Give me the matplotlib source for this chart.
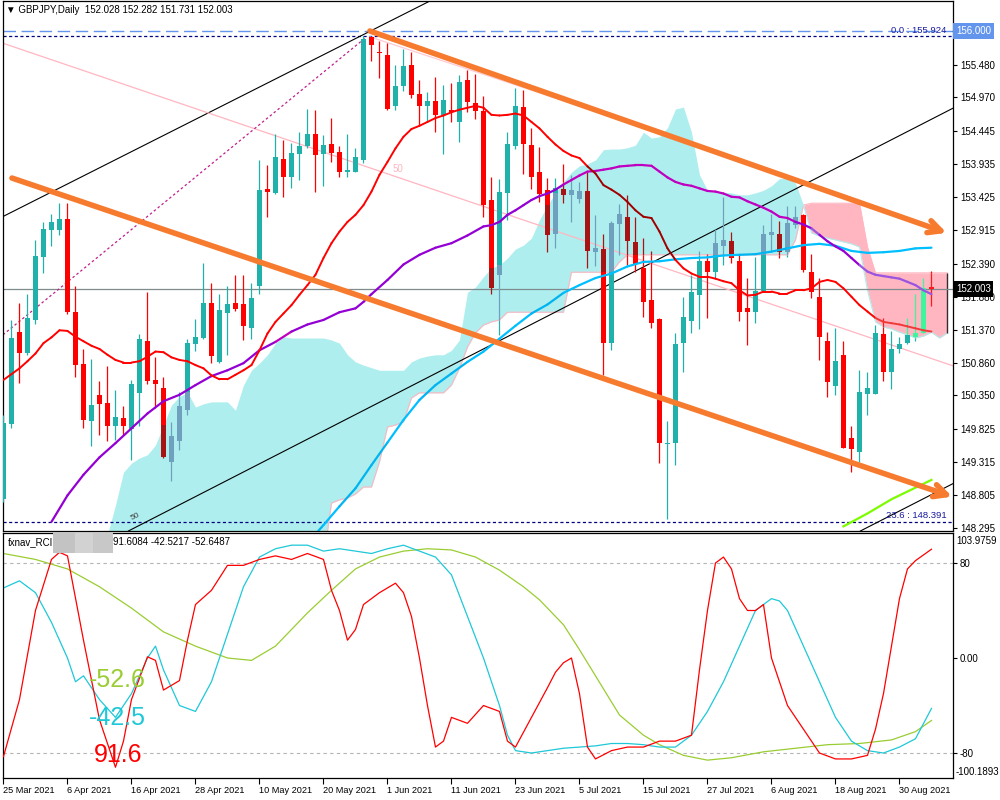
import numpy as np
import matplotlib.pyplot as plt
from matplotlib.collections import LineCollection
from matplotlib.transforms import blended_transform_factory

plt.rcParams['font.family'] = ['Liberation Sans', 'DejaVu Sans']

# ================= GBPJPY daily, bar 0 = 25 Mar 2021 ... bar 116 = 3 Sep 2021 =================
opens = [148.75, 149.90, 151.33, 151.00, 151.52, 152.50, 152.92, 152.92, 153.09, 151.64,
         150.83, 149.95, 150.36, 150.23, 149.87, 150.00, 149.83, 150.39, 151.19, 150.59,
         150.46, 149.32, 149.64, 150.12, 151.15, 151.24, 151.79, 150.87, 151.63, 151.79,
         151.76, 151.40, 152.04, 153.55, 153.49, 154.01, 153.73, 154.10, 154.21, 154.41,
         154.09, 154.25, 154.12, 153.82, 153.82, 154.00, 155.90, 155.67, 155.63, 154.83,
         155.15, 155.47, 155.02, 154.83, 154.92, 154.70, 154.78, 154.59, 155.24, 154.89,
         154.76, 153.38, 152.22, 153.49, 154.21, 154.82, 154.23, 153.82, 153.54, 152.86,
         153.55, 153.46, 153.40, 153.52, 152.58, 152.62, 151.16, 153.00, 153.12, 152.73,
         152.33, 151.83, 151.54, 149.59, 149.61, 151.16, 151.50, 151.90, 152.43, 152.27,
         152.67, 152.74, 152.43, 151.70, 151.65, 151.97, 152.84, 152.86, 152.58, 152.99,
         153.14, 152.27, 151.88, 151.19, 150.50, 150.98, 149.69, 149.48, 150.37, 150.37,
         151.30, 150.71, 151.07, 151.17, 151.26, 151.31, 152.028]
highs = [150.05, 151.52, 151.78, 151.92, 152.76, 153.04, 153.17, 153.33, 153.34, 152.05,
         151.07, 150.92, 150.57, 150.81, 150.43, 150.19, 150.59, 151.30, 151.96, 150.94,
         150.64, 149.94, 150.41, 151.23, 151.54, 152.40, 152.10, 151.92, 152.04, 152.21,
         152.21, 152.10, 154.00, 153.93, 154.40, 154.31, 154.27, 154.44, 154.79, 154.77,
         154.39, 154.65, 154.21, 154.41, 154.18, 155.92, 155.91, 155.85, 155.81, 155.47,
         155.72, 155.68, 155.24, 155.06, 155.29, 155.17, 155.19, 155.32, 155.40, 155.34,
         154.99, 153.74, 153.71, 154.43, 155.11, 155.09, 154.49, 154.20, 153.72, 153.72,
         153.94, 153.77, 153.66, 153.82, 153.15, 152.86, 153.05, 153.32, 153.46, 153.12,
         152.79, 152.59, 151.55, 149.95, 151.31, 151.88, 152.21, 152.59, 152.55, 152.93,
         153.42, 152.89, 152.55, 152.17, 152.50, 152.99, 153.17, 153.05, 153.28, 153.28,
         153.17, 152.54, 152.17, 151.33, 151.40, 151.19, 149.87, 150.74, 150.72, 151.44,
         151.55, 151.35, 151.26, 151.55, 151.92, 152.17, 152.282]
lows = [148.70, 149.84, 150.55, 150.98, 151.45, 152.25, 152.67, 152.84, 151.61, 150.63,
        149.85, 149.56, 149.73, 149.64, 149.66, 149.73, 149.35, 149.87, 150.52, 150.15,
        149.38, 149.02, 149.50, 150.04, 151.04, 151.22, 150.85, 150.85, 150.97, 151.66,
        151.21, 151.23, 151.92, 153.11, 153.47, 153.43, 153.57, 153.69, 154.19, 153.50,
        153.59, 153.97, 153.73, 153.73, 153.81, 153.95, 155.54, 155.27, 154.77, 154.77,
        155.07, 154.96, 154.54, 154.59, 154.44, 154.10, 154.59, 154.28, 154.75, 154.63,
        153.11, 151.92, 151.29, 153.07, 154.17, 153.79, 153.55, 153.35, 152.58, 152.63,
        153.33, 153.04, 153.33, 152.32, 152.35, 150.67, 151.05, 152.53, 152.37, 152.27,
        151.57, 151.39, 149.31, 148.44, 149.27, 150.72, 151.31, 151.38, 151.55, 152.17,
        152.37, 152.40, 151.50, 151.13, 151.48, 151.96, 152.61, 152.48, 152.50, 152.94,
        152.27, 151.86, 150.90, 150.33, 150.35, 149.53, 149.17, 149.32, 150.04, 150.37,
        150.57, 150.45, 151.00, 151.15, 151.19, 151.31, 151.731]
closes = [149.92, 151.24, 151.00, 151.55, 152.51, 152.93, 153.04, 153.09, 151.64, 150.82,
          149.97, 150.20, 150.22, 149.88, 150.02, 149.87, 150.52, 151.23, 150.57, 150.52,
          149.39, 149.72, 150.18, 151.17, 151.25, 151.79, 150.96, 151.67, 151.76, 151.69,
          151.42, 151.86, 153.54, 153.51, 154.04, 153.73, 154.11, 154.22, 154.41, 154.07,
          154.23, 154.11, 153.82, 153.84, 154.04, 155.88, 155.78, 155.66, 154.79, 155.15,
          155.46, 155.00, 154.83, 154.92, 154.70, 154.93, 154.74, 155.21, 154.90, 154.76,
          153.30, 152.01, 153.51, 154.25, 154.84, 154.25, 153.73, 153.48, 152.83, 153.56,
          153.45, 153.54, 153.52, 152.59, 152.64, 151.16, 153.03, 153.16, 152.74, 152.38,
          151.80, 151.48, 149.62, 149.62, 151.14, 151.56, 151.96, 152.43, 152.27, 152.71,
          152.76, 152.48, 151.64, 151.65, 151.97, 152.86, 152.88, 152.58, 153.03, 153.12,
          152.30, 151.96, 151.25, 150.56, 150.88, 149.54, 149.52, 150.41, 150.46, 151.31,
          150.72, 151.07, 151.14, 151.28, 151.31, 152.02, 152.003]

date_bars = [0, 8, 16, 24, 32, 40, 48, 56, 64, 72, 80, 88, 96, 104, 112]
date_labels = ['25 Mar 2021', '6 Apr 2021', '16 Apr 2021', '28 Apr 2021', '10 May 2021',
               '20 May 2021', '1 Jun 2021', '11 Jun 2021', '23 Jun 2021', '5 Jul 2021',
               '15 Jul 2021', '27 Jul 2021', '6 Aug 2021', '18 Aug 2021', '30 Aug 2021']
price_ticks = [155.480, 154.970, 154.445, 153.935, 153.425, 152.915, 152.390, 151.880,
               151.370, 150.860, 150.350, 149.825, 149.315, 148.805, 148.295]

# ---- Ichimoku cloud, bars 13 .. 118
kumo_first = 13
span_a = [148.19, 148.65, 149.16, 149.30, 149.38, 149.43, 149.58, 149.89, 150.20, 150.33,
          150.40, 150.17, 150.22, 150.25, 150.25, 150.25, 150.12, 150.51, 150.74, 150.85,
          150.98, 151.16, 151.26, 151.24, 151.24, 151.24, 151.24, 151.24, 151.21, 151.16,
          150.98, 150.87, 150.82, 150.78, 150.74, 150.74, 150.74, 150.74, 150.87, 150.93,
          150.96, 150.98, 150.98, 151.05, 151.21, 151.95, 152.03, 152.19, 152.33, 152.37,
          152.48, 152.62, 152.68, 152.79, 153.07, 153.30, 153.49, 153.66, 153.81, 153.91,
          153.94, 154.00, 154.16, 154.17, 154.17, 154.19, 154.23, 154.43, 154.34, 154.36,
          154.50, 154.79, 154.82, 154.43, 153.77, 153.53, 153.52, 153.50, 153.49, 153.46,
          153.46, 153.49, 153.53, 153.60, 153.71, 153.72, 153.64, 153.30, 152.87, 152.82,
          152.79, 152.76, 152.73, 152.70, 152.65, 151.98, 151.49, 151.41, 151.38, 151.33,
          151.29, 151.24, 151.27, 151.33, 151.24, 151.32]
span_b = [147.80, 147.80, 147.80, 147.80, 147.80, 147.80, 147.80, 147.80, 147.80, 147.80,
          147.80, 147.80, 147.80, 147.80, 147.80, 147.80, 147.80, 147.80, 147.80, 147.80,
          147.80, 147.80, 147.80, 147.80, 147.80, 147.80, 147.80, 147.80, 148.68, 148.73,
          148.76, 148.82, 148.93, 148.93, 149.32, 149.86, 149.89, 149.94, 150.31, 150.39,
          150.39, 150.39, 150.39, 150.51, 150.77, 151.10, 151.32, 151.44, 151.49, 151.52,
          151.64, 151.64, 151.64, 151.64, 151.64, 151.64, 151.64, 151.64, 152.26, 152.26,
          152.26, 152.26, 152.26, 152.26, 152.42, 152.53, 152.53, 152.53, 152.53, 152.53,
          152.53, 152.53, 152.53, 152.53, 152.53, 152.53, 152.53, 152.53, 152.53, 152.53,
          152.53, 152.53, 152.53, 152.53, 152.53, 152.53, 152.76, 153.30, 153.33, 153.33,
          153.33, 153.33, 153.33, 153.33, 153.33, 152.65, 152.25, 152.25, 152.25, 152.25,
          152.25, 152.25, 152.25, 152.25, 152.25, 152.25]

# ---- moving averages (bar, price)
ma_fast_bar = list(range(0, 117))
ma_fast = [150.59, 150.68, 150.77, 150.88, 151.00, 151.16, 151.25, 151.36, 151.35, 151.26,
           151.19, 151.12, 151.07, 150.98, 150.90, 150.86, 150.86, 150.88, 150.95, 151.03,
           151.02, 150.94, 150.90, 150.88, 150.82, 150.77, 150.66, 150.60, 150.60, 150.67,
           150.74, 150.82, 151.05, 151.31, 151.49, 151.62, 151.75, 151.91, 152.06, 152.22,
           152.48, 152.71, 152.89, 153.04, 153.15, 153.30, 153.51, 153.77, 153.97, 154.18,
           154.36, 154.48, 154.53, 154.59, 154.65, 154.69, 154.74, 154.78, 154.81, 154.84,
           154.81, 154.70, 154.69, 154.70, 154.72, 154.69, 154.59, 154.49, 154.36, 154.24,
           154.14, 154.07, 154.03, 153.90, 153.79, 153.61, 153.54, 153.46, 153.35, 153.22,
           153.12, 153.10, 152.89, 152.63, 152.45, 152.32, 152.24, 152.19, 152.19, 152.16,
           152.12, 152.09, 151.98, 151.90, 151.91, 151.96, 151.96, 151.93, 151.93, 151.98,
           151.98, 152.01, 152.11, 152.14, 152.11, 152.01, 151.88, 151.75, 151.65, 151.55,
           151.49, 151.47, 151.45, 151.42, 151.39, 151.36, 151.34]
ma_mid_bar = [6, 8, 10, 12, 14, 16, 18, 20, 22, 24, 26, 28, 30, 32, 34, 36, 38, 40, 42, 44,
              45, 46, 48, 50, 52, 54, 56, 58, 60, 61, 62, 63, 64, 65, 66, 67, 68, 69, 70, 71,
              72, 73, 74, 75, 76, 77, 78, 79, 80, 81, 82, 83, 84, 85, 86, 87, 88, 89, 90, 91,
              92, 93, 94, 95, 96, 97, 98, 99, 100, 101, 102, 103, 104, 105, 106, 107, 108, 109,
              110, 111, 112, 113, 114, 115, 116]
ma_mid = [148.39, 148.80, 149.12, 149.39, 149.61, 149.84, 150.07, 150.26, 150.36, 150.51,
          150.65, 150.74, 150.85, 151.05, 151.18, 151.34, 151.45, 151.52, 151.64, 151.70,
          151.80, 151.92, 152.14, 152.38, 152.53, 152.64, 152.71, 152.83, 152.97, 152.99,
          153.04, 153.15, 153.22, 153.30, 153.38, 153.44, 153.48, 153.54, 153.62, 153.69,
          153.76, 153.82, 153.83, 153.85, 153.87, 153.90, 153.91, 153.92, 153.92, 153.91,
          153.82, 153.73, 153.66, 153.62, 153.60, 153.56, 153.52, 153.51, 153.48, 153.43,
          153.42, 153.36, 153.31, 153.26, 153.20, 153.12, 153.10, 153.04, 153.00, 152.94,
          152.84, 152.74, 152.66, 152.59, 152.48, 152.37, 152.27, 152.22, 152.20, 152.18,
          152.16, 152.11, 152.06, 151.98, 151.92]
ma_slow_bar = [39, 40, 42, 44, 46, 48, 50, 52, 54, 56, 58, 60, 62, 64, 66, 68, 70, 72, 74, 76,
               78, 80, 82, 84, 86, 88, 90, 92, 94, 96, 98, 100, 102, 104, 106, 108, 110, 112,
               114, 116]
ma_slow = [148.20, 148.34, 148.63, 148.91, 149.27, 149.62, 149.97, 150.28, 150.51, 150.69,
           150.87, 151.03, 151.23, 151.43, 151.62, 151.76, 151.94, 152.06, 152.17, 152.24,
           152.35, 152.42, 152.43, 152.46, 152.48, 152.49, 152.52, 152.53, 152.54, 152.58,
           152.63, 152.68, 152.70, 152.67, 152.59, 152.56, 152.57, 152.59, 152.63, 152.64]
ma_long_bar = [105, 108, 111, 114, 116]
ma_long = [148.32, 148.52, 148.74, 148.92, 149.04]

# ---- drawn objects (bar, price)
fib_high, fib_low236 = 155.924, 148.391
chan_top = [(45.8, 156.00), (117.9, 152.87)]
chan_bot = [(1.06, 153.72), (118.6, 148.78)]
fan_lines = [[(-0.44, 153.10), (45.56, 155.98)],
             [(17.06, 148.34), (117.7, 154.74)],
             [(108.56, 148.34), (117.7, 148.92)]]
pink_line = [(-0.06, 155.81), (117.7, 150.85)]
pink_short = [(45.8, 155.91), (74.6, 154.73)]
fib_diag = [(-0.06, 151.29), (45.2, 155.89)]
last_price = 152.003

# ---- RCI sub window (bar, value)
rci_fast_bar = [0, 2, 4, 6, 7, 8, 10, 12, 14, 15, 16, 18, 19, 20, 22, 23, 24, 26, 28, 30, 32,
                34, 36, 38, 40, 41, 42, 43, 44, 45, 47, 49, 50, 51, 52, 53, 54, 55, 56, 58, 60,
                62, 63, 64, 66, 68, 69, 70, 71, 72, 73, 74, 76, 78, 80, 82, 84, 86, 87, 88, 89,
                90, 91, 92, 93, 94, 95, 96, 97, 98, 100, 102, 104, 106, 108, 109, 110, 111,
                112, 113, 114, 116]
rci_fast = [-83, -35, 40, 83, 89, 86, 15, -52, -92, -70, -35, 1, -2, -27, -19, 15, 45, 57, 78,
            78, 83, 86, 83, 88, 83, 57, 40, 15, 24, 45, 55, 63, 55, 35, 0, -40, -75, -70, -50,
            -55, -40, -45, -70, -75, -50, -25, -12, -4, 0, -30, -75, -85, -78, -75, -75, -70,
            -70, -65, -10, 40, 80, 85, 75, 50, 40, 40, 45, 0, -20, -40, -60, -80, -85, -85,
            -82, -60, -30, 10, 50, 75, 82, 91.6]
rci_mid_bar = [0, 2, 4, 6, 8, 9, 10, 12, 14, 16, 18, 19, 20, 22, 24, 26, 28, 30, 32, 34, 36, 38,
               40, 42, 44, 46, 48, 50, 52, 54, 56, 58, 60, 62, 63, 64, 66, 68, 70, 72, 74, 76,
               78, 80, 82, 84, 86, 88, 90, 92, 94, 96, 97, 98, 100, 102, 104, 106, 108, 110,
               112, 114, 116]
rci_mid = [59, 65, 55, 30, 0, -20, -15, -35, -50, -30, 0, 10, -10, -40, -45, -20, 20, 60, 85,
           92, 95, 95, 90, 92, 90, 88, 92, 95, 90, 85, 70, 35, 0, -40, -65, -78, -80, -78, -76,
           -75, -74, -72, -72, -73, -75, -75, -65, -45, -20, 10, 40, 50, 48, 40, 10, -20, -50,
           -70, -78, -80, -75, -68, -42.5]
rci_slow_bar = [0, 4, 8, 12, 16, 20, 24, 28, 31, 34, 36, 38, 41, 44, 47, 50, 53, 56, 59, 62, 65,
                67, 70, 72, 74, 77, 80, 82, 85, 88, 91, 95, 99, 103, 107, 111, 114, 116]
rci_slow = [88, 83, 75, 60, 42, 22, 10, 0, -2, 10, 24, 38, 57, 75, 85, 90, 92, 91, 85, 74, 60,
            49, 28, 7, -15, -48, -65, -73, -82, -86, -84, -79, -76, -73, -72, -69, -62, -52.6]

# ================================ FIGURE ================================
W, H = 1000, 800
fig = plt.figure(figsize=(W / 100, H / 100), dpi=100)
ax = fig.add_axes([3 / W, 1 - 531 / H, 950 / W, 530 / H])
sub = fig.add_axes([3 / W, 1 - 778 / H, 950 / W, 245 / H])
for a_ in (ax, sub):
    a_.set_xlim(-0.06, 118.69)
    for s in a_.spines.values():
        s.set_color('black')
        s.set_linewidth(0.9)
ax.set_ylim(148.248, 156.465)
sub.set_ylim(-101.05, 105.26)

# ---- cloud
ki = np.arange(kumo_first, kumo_first + len(span_a))
sa, sb = np.array(span_a), np.array(span_b)
ctop, cbot = np.maximum(sa, sb), np.minimum(sa, sb)
ax.fill_between(ki, sa, sb, where=sa >= sb, interpolate=True, color='#afeeee', lw=0, zorder=1)
ax.fill_between(ki, sa, sb, where=sa < sb, interpolate=True, color='#ffb6c1', lw=0, zorder=1)
ax.plot(ki, sb, color='#ffb6c1', lw=0.8, zorder=1.1)
ax.plot(ki[sa < sb + 0.01], sa[sa < sb + 0.01], color='#afeeee', lw=0.8, zorder=1.1)
ax.vlines(ki[-1], cbot[-1], ctop[-1], color='#303030', lw=1, zorder=1.2)


def cloud_kind(x, y):
    if x < ki[0] or x > ki[-1]:
        return None
    t, b = np.interp(x, ki, ctop), np.interp(x, ki, cbot)
    if b <= y <= t:
        return 'cyan' if np.interp(x, ki, sa - sb) >= 0 else 'pink'
    return None


# ---- horizontal levels
ax.axhline(156.0, color='#6495ed', lw=1, dashes=(9, 4), zorder=2)
ax.axhline(fib_high, color='#000080', lw=0.9, dashes=(2.5, 2), zorder=2)
ax.axhline(fib_low236, color='#000080', lw=0.9, dashes=(2.5, 2), zorder=2)
ax.axhline(last_price, color='#7f8c8d', lw=0.9, zorder=2)
ax.text(117.9, fib_high + 0.02, '0.0 : 155.924', color='#1a1aa0', fontsize=6.8,
        ha='right', va='bottom', zorder=6)
ax.text(117.9, fib_low236 + 0.02, '23.6 : 148.391', color='#1a1aa0', fontsize=6.8,
        ha='right', va='bottom', zorder=6)

# ---- thin drawn lines
for ln in fan_lines:
    ax.axline(ln[0], ln[1], color='black', lw=0.8, zorder=2)
ax.axline(pink_line[0], pink_line[1], color='#ffb6c1', lw=0.9, zorder=2)
ax.plot(*zip(*pink_short), color='#ffc8d2', lw=0.9, zorder=2)
ax.plot(*zip(*fib_diag), color='#c0208a', lw=0.9, ls=(0, (2, 2)), zorder=2)
ax.text(15.8, 148.42, '50', fontsize=6, color='#404040', rotation=25, zorder=2)
ax.text(48.6, 153.82, '50', fontsize=7, color='#ffb6c1', zorder=2)

# ---- candles
bull_c = {None: '#20b2aa', 'cyan': '#6fa0bd', 'pink': '#3cf59c'}
bear_c = {None: '#ff0000', 'cyan': '#a81414', 'pink': '#ff1a1a'}


def pieces(lo, hi, i):
    if i < ki[0] or i > ki[-1]:
        return [(lo, hi, None)]
    t, b = ctop[i - kumo_first], cbot[i - kumo_first]
    edges = sorted(set([lo, hi] + [v for v in (b, t) if lo < v < hi]))
    if len(edges) == 1:
        return [(lo, hi, cloud_kind(i, lo))]
    return [(p0, p1, cloud_kind(i, (p0 + p1) / 2)) for p0, p1 in zip(edges[:-1], edges[1:])]


for i in range(len(opens)):
    o, h, l, c = opens[i], highs[i], lows[i], closes[i]
    pal = bull_c if c >= o else bear_c
    for p0, p1, k in pieces(l, h, i):
        ax.vlines(i, p0, p1, color=pal[k], lw=0.9, zorder=3)
    blo, bhi = min(o, c), max(o, c)
    if bhi - blo < 0.015:
        blo, bhi = (o + c) / 2 - 0.008, (o + c) / 2 + 0.008
    for p0, p1, k in pieces(blo, bhi, i):
        ax.bar(i, p1 - p0, bottom=p0, width=0.62, color=pal[k], lw=0, zorder=3)


# ---- moving averages
def cloud_line(xs, ys, colors, lw, z):
    segs, cols = [], []
    for k in range(len(xs) - 1):
        xm, ym = (xs[k] + xs[k + 1]) / 2, (ys[k] + ys[k + 1]) / 2
        segs.append([(xs[k], ys[k]), (xs[k + 1], ys[k + 1])])
        cols.append(colors[cloud_kind(xm, ym)])
    ax.add_collection(LineCollection(segs, colors=cols, linewidths=lw, zorder=z,
                                     capstyle='round'))


cloud_line(ma_slow_bar, ma_slow, {None: '#00bfff', 'cyan': '#00b4f0', 'pink': '#00bfff'}, 1.6, 4)
cloud_line(ma_mid_bar, ma_mid, {None: '#9400d3', 'cyan': '#c000c0', 'pink': '#9a55e0'}, 1.6, 4)
cloud_line(ma_fast_bar, ma_fast, {None: '#ff0000', 'cyan': '#a00000', 'pink': '#f03a3a'}, 1.4, 4)
ax.plot(ma_long_bar, ma_long, color='#7cfc00', lw=1.6, zorder=4)

# ---- orange channel with arrows
for ln in (chan_top, chan_bot):
    ax.annotate('', xy=ln[1], xytext=ln[0], zorder=5,
                arrowprops=dict(arrowstyle='->,head_length=0.9,head_width=0.45',
                                color='#f77b2f', lw=4, shrinkA=0, shrinkB=0))

# ---- main axis ticks / labels
ax.set_xticks([])
ax.yaxis.tick_right()
ax.set_yticks(price_ticks)
ax.set_yticklabels([f'{v:.3f}' for v in price_ticks])
ax.tick_params(axis='y', length=3, width=0.8, labelsize=7, pad=2)
trans = blended_transform_factory(ax.transAxes, ax.transData)
ax.text(1.003, 156.0, '156.000', transform=trans, fontsize=7, color='white', va='center',
        ha='left', bbox=dict(boxstyle='square,pad=0.28', fc='#6495ed', ec='none'), zorder=7)
ax.text(1.003, last_price, '152.003', transform=trans, fontsize=7, color='white', va='center',
        ha='left', bbox=dict(boxstyle='square,pad=0.28', fc='black', ec='none'), zorder=7)
fig.text(6 / W, 1 - 10 / H, '\u25bc GBPJPY,Daily  152.028 152.282 151.731 152.003',
         fontsize=7, va='center', ha='left')

# ================================ RCI window ================================
for lv in (80, -80):
    sub.axhline(lv, color='#b4b4b4', lw=0.8, dashes=(3, 3), zorder=1)
sub.plot(rci_slow_bar, rci_slow, color='#9acd32', lw=0.9, zorder=2)
sub.plot(rci_mid_bar, rci_mid, color='#1ec8d8', lw=0.9, zorder=2)
sub.plot(rci_fast_bar, rci_fast, color='#ff0000', lw=0.9, zorder=3)

sub.yaxis.tick_right()
sub.set_yticks([80, 0, -80])
sub.set_yticklabels(['80', '0.00', '-80'])
sub.tick_params(axis='y', length=3, width=0.8, labelsize=7, pad=2)
sub.text(1.003, 1 - 8 / 245, '103.9759', transform=sub.transAxes, fontsize=7, va='center')
sub.text(1.003, 6 / 245, '-100.1893', transform=sub.transAxes, fontsize=7, va='center')
sub.set_xticks(date_bars)
sub.set_xticklabels(date_labels, ha='left', fontsize=6.6)
sub.tick_params(axis='x', direction='out', length=4, width=0.8, pad=2)

fig.text(8 / W, 1 - 542 / H, 'fxnav_RCI', fontsize=7, va='center')
for x0, x1, gc in ((53, 75, '#c3c3c3'), (75, 93, '#d2d2d2'), (93, 113, '#c8c8c8')):
    fig.patches.append(plt.Rectangle((x0 / W, 1 - 553 / H), (x1 - x0) / W, 20 / H,
                                     transform=fig.transFigure, fc=gc, ec='none'))
fig.text(113 / W, 1 - 542 / H, '91.6084 -42.5217 -52.6487', fontsize=7, va='center')

fig.text(89 / W, 1 - 680 / H, '-52.6', color='#9acd32', fontsize=18, va='center')
fig.text(89 / W, 1 - 718 / H, '-42.5', color='#1ec8d8', fontsize=18, va='center')
fig.text(94 / W, 1 - 755 / H, '91.6', color='#ff0000', fontsize=18, va='center')

fig.savefig('out.png', dpi=100)
